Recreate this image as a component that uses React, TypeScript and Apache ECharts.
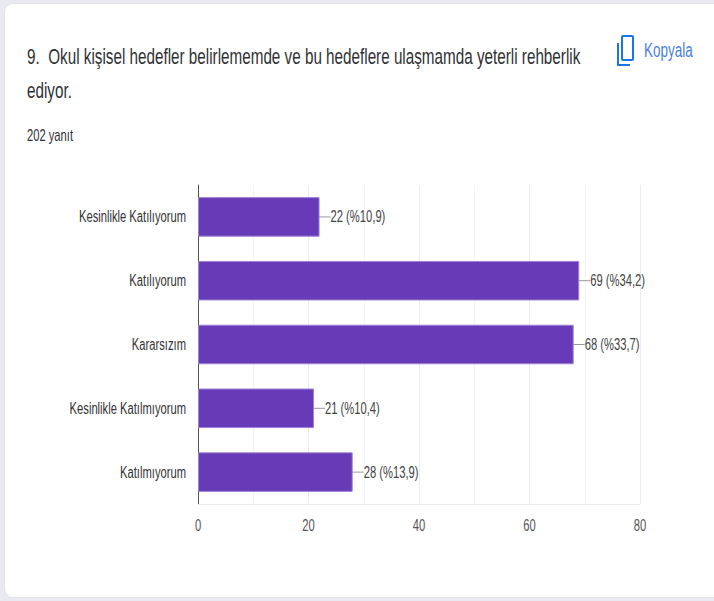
import React, { useEffect, useRef } from "react";
import * as echarts from "echarts";

const categories = ["Kesinlikle Katılıyorum", "Katılıyorum", "Kararsızım", "Kesinlikle Katılmıyorum", "Katılmıyorum"];
const values = [22, 69, 68, 21, 28];
const shares = ["%10,9", "%34,2", "%33,7", "%10,4", "%13,9"];
const titleLines = ["9.  Okul kişisel hedefler belirlememde ve bu hedeflere ulaşmamda yeterli rehberlik", "ediyor."];
const responses = "202 yanıt";
const copyLabel = "Kopyala";
const FONT = "'Liberation Sans', sans-serif";
const SQUEEZE = 0.7;

export default function App() {
  const ref = useRef<HTMLDivElement>(null);
  useEffect(() => {
    document.body.style.margin = "0";
    const chart = echarts.init(ref.current!, null, { renderer: "svg" });
    chart.setOption({
      animation: false,
      backgroundColor: "transparent",
      textStyle: { fontFamily: FONT },
      grid: { left: 198, right: 74, top: 185, bottom: 97, containLabel: false },
      xAxis: {
        type: "value", min: 0, max: 80, interval: 20,
        axisLine: { show: true, lineStyle: { color: "#ebebeb", width: 1 } },
        axisTick: { show: false },
        axisLabel: { color: "#555555", fontSize: 16, margin: 13, fontFamily: FONT },
        splitLine: { show: true, lineStyle: { color: "#ececec", width: 1 } },
        minorTick: { show: false, splitNumber: 2 },
        minorSplitLine: { show: true, lineStyle: { color: "#f4f4f4", width: 1 } },
      },
      yAxis: {
        type: "category", inverse: true, data: categories,
        axisLine: { show: true, lineStyle: { color: "#555555", width: 1 } },
        axisTick: { show: false },
        axisLabel: { color: "#333333", fontSize: 16, margin: 12, fontFamily: FONT },
      },
      series: [{
        type: "bar",
        data: values,
        barWidth: "62%",
        itemStyle: { color: "#673ab7", borderColor: "#9f82d4", borderWidth: 1 },
        label: {
          show: true, position: "right", distance: 0, color: "#444444", fontSize: 16, fontFamily: FONT,
          formatter: (p: any) => `${p.value} (${shares[p.dataIndex]})`,
        },
        labelLayout: { dx: 11 },
        labelLine: { show: true, lineStyle: { color: "#999999", width: 1 } },
      }],
      graphic: [
        { type: "text", x: 27, y: 56, scaleX: SQUEEZE, style: { text: titleLines[0], font: `21.8px ${FONT}`, fill: "#303134", textVerticalAlign: "middle" } },
        { type: "text", x: 27, y: 90, scaleX: SQUEEZE, style: { text: titleLines[1], font: `21.8px ${FONT}`, fill: "#303134", textVerticalAlign: "middle" } },
        { type: "text", x: 27, y: 135, scaleX: SQUEEZE, style: { text: responses, font: `16px ${FONT}`, fill: "#303134", textVerticalAlign: "middle" } },
        { type: "text", x: 644, y: 51, scaleX: SQUEEZE, style: { text: copyLabel, font: `19.3px ${FONT}`, fill: "#4a7fe0", textVerticalAlign: "middle" } },
        { type: "rect", shape: { x: 622, y: 36, width: 11, height: 24, r: 1 }, style: { fill: "none", stroke: "#1a73e8", lineWidth: 2 } },
        { type: "polyline", shape: { points: [[618, 43], [618, 65], [630, 65]] }, style: { fill: "none", stroke: "#1a73e8", lineWidth: 2 } },
      ],
    });
    // Axis and bar labels have no scale option: condense them around their own anchors.
    ref.current!.querySelectorAll("text").forEach((t: any) => {
      if (t.getAttribute("transform")?.includes("matrix(0.7")) return;
      t.setAttribute("textLength", String(t.getComputedTextLength() * SQUEEZE));
      t.setAttribute("lengthAdjust", "spacingAndGlyphs");
    });
    return () => chart.dispose();
  }, []);
  return (
    <div style={{ position: "relative", width: 714, height: 601, background: "#e9e9f2", overflow: "hidden" }}>
      <div style={{ position: "absolute", left: 4, top: 3, width: 730, height: 595, background: "#fff", borderRadius: 9, border: "1px solid #e3e3e8", boxSizing: "border-box" }} />
      <div ref={ref} style={{ position: "absolute", left: 0, top: 0, width: 714, height: 601 }} />
    </div>
  );
}
